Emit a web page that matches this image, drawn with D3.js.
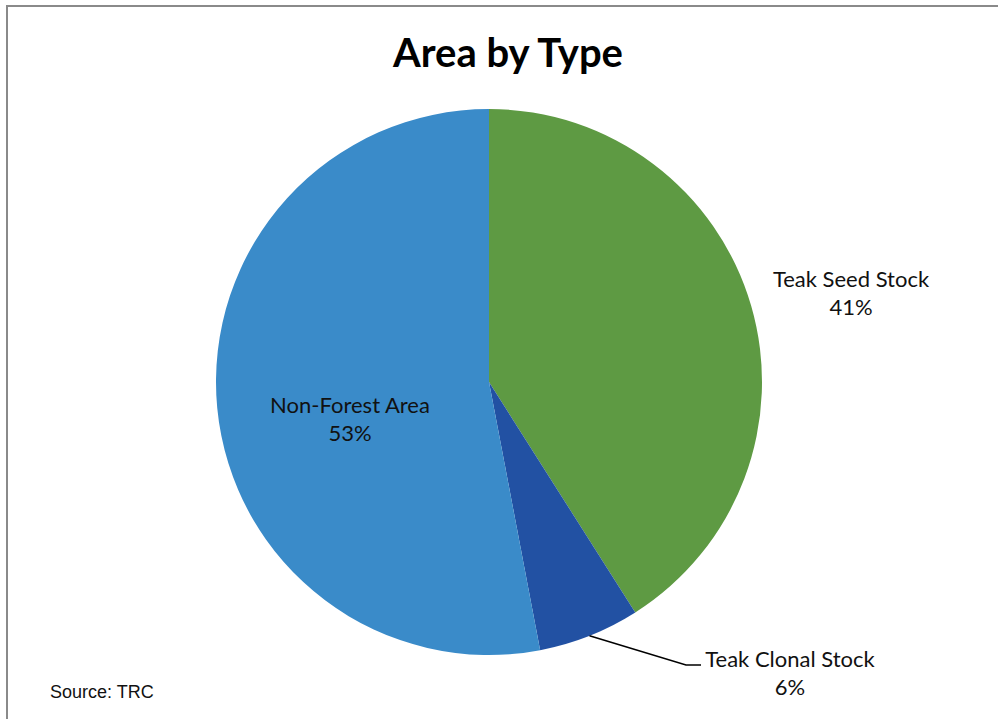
<!DOCTYPE html>
<html>
<head>
<meta charset="utf-8">
<script src="https://cdn.jsdelivr.net/npm/d3@7"></script>
<style>
  html, body { margin: 0; padding: 0; background: #fff; }
  svg { display: block; }
</style>
</head>
<body>
<svg id="chart" width="998" height="719"></svg>
<script>
// Area shares by type (percent), drawn clockwise from 12 o'clock
const categories = ["Teak Seed Stock", "Teak Clonal Stock", "Non-Forest Area"];
const shares = [41, 6, 53];
const sliceColors = ["#5E9A43", "#2251A3", "#3A8BC9"];

const W = 998, H = 719;
const cx = 489, cy = 382, R = 273;
const font = "Lato, 'Open Sans', sans-serif";

const svg = d3.select("#chart");

// chart frame (runs off the right and bottom edges)
svg.append("rect")
  .attr("x", 7).attr("y", 6)
  .attr("width", W + 10).attr("height", H + 10)
  .attr("fill", "#fff")
  .attr("stroke", "#8a8a8a").attr("stroke-width", 2);

// title
svg.append("text")
  .attr("x", 508).attr("y", 67)
  .attr("text-anchor", "middle")
  .attr("font-family", font)
  .attr("font-weight", 700)
  .attr("font-size", 40)
  .attr("fill", "#000")
  .text("Area by Type");

const data = categories.map((c, i) => ({ name: c, value: shares[i], color: sliceColors[i] }));

const pie = d3.pie().value(d => d.value).sort(null);
const arcs = pie(data);
const arc = d3.arc().innerRadius(0).outerRadius(R);

const g = svg.append("g").attr("transform", `translate(${cx},${cy})`);

g.selectAll("path")
  .data(arcs)
  .join("path")
  .attr("d", arc)
  .attr("fill", d => d.data.color);

// label anchor positions relative to the pie centre
const labelPos = {
  "Teak Seed Stock": [362, -95],
  "Teak Clonal Stock": [301, 285],
  "Non-Forest Area": [-139, 31]
};

arcs.forEach(a => {
  const [lx, ly] = labelPos[a.data.name];
  const t = g.append("text")
    .attr("text-anchor", "middle")
    .attr("font-family", font)
    .attr("font-size", 22)
    .attr("fill", "#111");
  t.append("tspan").attr("x", lx).attr("y", ly).text(a.data.name);
  t.append("tspan").attr("x", lx).attr("y", ly + 28).text(a.data.value + "%");
});

// leader line for the small slice
const clonal = arcs[1];
const mid = (clonal.startAngle + clonal.endAngle) / 2;
const edge = [Math.sin(mid) * R, -Math.cos(mid) * R];
g.append("path")
  .attr("d", d3.line()([edge, [197, 283], [212, 283]]))
  .attr("fill", "none")
  .attr("stroke", "#000")
  .attr("stroke-width", 1.5);

// source note
svg.append("text")
  .attr("x", 50).attr("y", 698)
  .attr("font-family", "'Liberation Sans', Arial, sans-serif")
  .attr("font-size", 18)
  .attr("fill", "#111")
  .text("Source: TRC");
</script>
</body>
</html>
